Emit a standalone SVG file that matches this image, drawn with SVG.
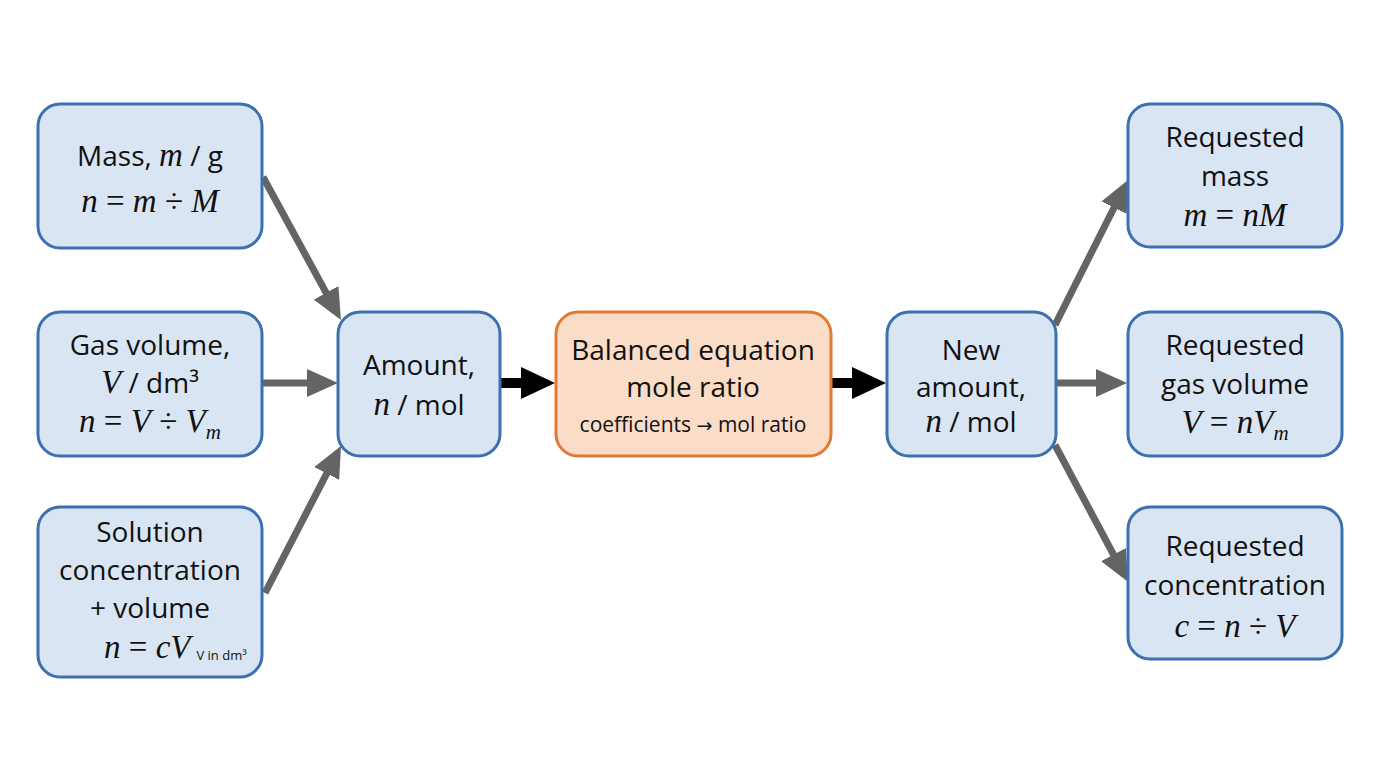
<svg xmlns="http://www.w3.org/2000/svg" width="1376" height="768" viewBox="0 0 1376 768">
<style>
.box{fill:#dae5f3;stroke:#3d70ae;stroke-width:3}
.obox{fill:#fbdcc6;stroke:#e07b37;stroke-width:3}
.t{font-family:"Open Sans","Noto Sans",sans-serif;font-size:28px;fill:#111;text-anchor:middle}
.s{font-family:"Open Sans","Noto Sans",sans-serif;font-size:21px;fill:#111;text-anchor:middle}
.m{font-family:"Liberation Serif","DejaVu Serif",serif;font-style:italic;font-size:33px;fill:#111}
.f{font-family:"Liberation Serif","DejaVu Serif",serif;font-size:33px;fill:#111;text-anchor:middle}
.op{font-style:normal}
.sub{font-size:21px}
.arr{font-family:"DejaVu Sans",sans-serif;font-size:19px}
.g{stroke:#646464;stroke-width:7;fill:none}
.k{stroke:#000;stroke-width:10;fill:none}
</style>
<defs>
<marker id="ag" markerUnits="userSpaceOnUse" markerWidth="31" markerHeight="28" refX="1" refY="14" orient="auto" viewBox="0 0 31 28">
<path d="M0,0 L31,14 L0,28 z" fill="#646464"/>
</marker>
<marker id="ak" markerUnits="userSpaceOnUse" markerWidth="34" markerHeight="32" refX="1" refY="16" orient="auto" viewBox="0 0 34 32">
<path d="M0,0 L34,16 L0,32 z" fill="#000"/>
</marker>
</defs>
<rect width="1376" height="768" fill="#fff"/>
<g id="connectors">
<line class="g" x1="263" y1="177" x2="326.6" y2="293.7" marker-end="url(#ag)"/>
<line class="g" x1="263" y1="383" x2="308" y2="383" marker-end="url(#ag)"/>
<line class="g" x1="265" y1="593" x2="327.2" y2="472.6" marker-end="url(#ag)"/>
<line class="k" x1="500" y1="383" x2="522" y2="383" marker-end="url(#ak)"/>
<line class="k" x1="832" y1="383" x2="853" y2="383" marker-end="url(#ak)"/>
<line class="g" x1="1055" y1="325" x2="1114.5" y2="206.8" marker-end="url(#ag)"/>
<line class="g" x1="1056" y1="383" x2="1097" y2="383" marker-end="url(#ag)"/>
<line class="g" x1="1055" y1="445" x2="1114" y2="555.5" marker-end="url(#ag)"/>
</g>
<g id="mass">
<rect class="box" x="38" y="104" width="224" height="144" rx="22"/>
<text class="t" x="150" y="166">Mass, <tspan class="m">m</tspan> / g</text>
<text class="f" x="150" y="212"><tspan class="m">n</tspan> = <tspan class="m">m</tspan> ÷ <tspan class="m">M</tspan></text>
</g>
<g id="gas">
<rect class="box" x="38" y="312" width="224" height="144" rx="22"/>
<text class="t" x="150" y="355">Gas volume,</text>
<text class="t" x="150" y="393"><tspan class="m">V</tspan> / dm³</text>
<text class="f" x="150" y="432"><tspan class="m">n</tspan> = <tspan class="m">V</tspan> ÷ <tspan class="m">V</tspan><tspan class="m sub" dy="7">m</tspan></text>
</g>
<g id="solution">
<rect class="box" x="38" y="507" width="224" height="170" rx="22"/>
<text class="t" x="150" y="542">Solution</text>
<text class="t" x="150" y="580">concentration</text>
<text class="t" x="150" y="618">+ volume</text>
<text class="m" x="104" y="658">n<tspan class="op"> = </tspan>cV<tspan class="op" font-family="Open Sans, sans-serif" font-size="13" dx="6" dy="2">V in dm³</tspan></text>
</g>
<g id="amount">
<rect class="box" x="338" y="312" width="162" height="144" rx="22"/>
<text class="t" x="419" y="375">Amount,</text>
<text class="t" x="419" y="415"><tspan class="m">n</tspan> / mol</text>
</g>
<g id="balanced">
<rect class="obox" x="556" y="312" width="275" height="144" rx="22"/>
<text class="t" x="693" y="360">Balanced equation</text>
<text class="t" x="693" y="397">mole ratio</text>
<text class="s" x="693" y="432">coefficients <tspan class="arr">→</tspan> mol ratio</text>
</g>
<g id="newamount">
<rect class="box" x="887" y="312" width="169" height="144" rx="22"/>
<text class="t" x="971" y="360">New</text>
<text class="t" x="971" y="397">amount,</text>
<text class="t" x="971" y="432"><tspan class="m">n</tspan> / mol</text>
</g>
<g id="reqmass">
<rect class="box" x="1128" y="104" width="214" height="143" rx="22"/>
<text class="t" x="1235" y="147">Requested</text>
<text class="t" x="1235" y="186">mass</text>
<text class="f" x="1235" y="226"><tspan class="m">m</tspan> = <tspan class="m">nM</tspan></text>
</g>
<g id="reqgas">
<rect class="box" x="1128" y="312" width="214" height="144" rx="22"/>
<text class="t" x="1235" y="355">Requested</text>
<text class="t" x="1235" y="394">gas volume</text>
<text class="f" x="1235" y="433"><tspan class="m">V</tspan> = <tspan class="m">nV</tspan><tspan class="m sub" dy="7">m</tspan></text>
</g>
<g id="reqconc">
<rect class="box" x="1128" y="507" width="214" height="152" rx="22"/>
<text class="t" x="1235" y="556">Requested</text>
<text class="t" x="1235" y="595">concentration</text>
<text class="f" x="1235" y="637"><tspan class="m">c</tspan> = <tspan class="m">n</tspan> ÷ <tspan class="m">V</tspan></text>
</g>
</svg>
